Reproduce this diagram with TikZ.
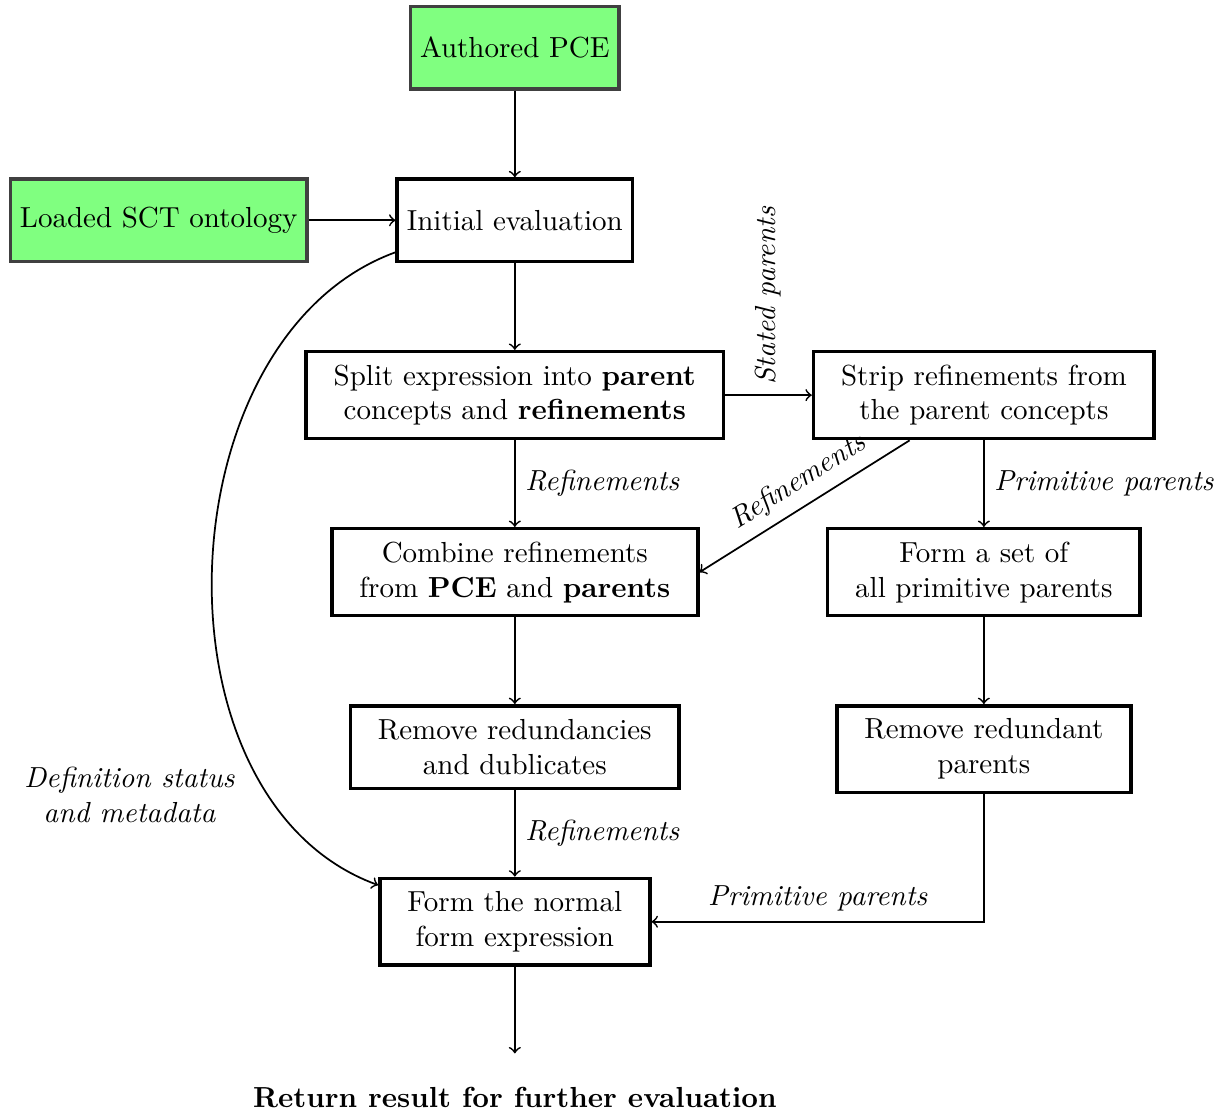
\documentclass[tikz,border=0pt]{standalone}
\usetikzlibrary{positioning}

\begin{document}
\begin{tikzpicture}[node distance=1.05cm,>=to,
      box/.style={draw,very thick,minimum height=1cm,align=center},
      block/.style={box,inner xsep=9.5pt,inner ysep=4.5pt},
      input/.style={box,draw=black!75,fill=green!50},
      lbl/.style={font=\itshape},
      flow/.style={->,semithick}]
      \useasboundingbox (-6.24,2.67) rectangle (8.62,-10.8);
      \node[box] (init) {Initial evaluation};
      \node[input] (pce) [above=of init] {Authored PCE};
      \node[input] (sct) [left=of init] {Loaded SCT ontology};
      \node[block] (split) [below=of init] {Split expression into \textbf{parent}\\concepts and \textbf{refinements}};
      \node[block] (strip) [right=of split] {Strip refinements from\\the parent concepts};
      \node[block] (combine) [below=of split] {Combine refinements\\from \textbf{PCE} and \textbf{parents}};
      \node[block] (primset) [below=of strip] {Form a set of\\all primitive parents};
      \node[block] (redund) [below=of combine] {Remove redundancies\\and dublicates};
      \node[block] (redpar) [below=of primset] {Remove redundant\\parents};
      \node[block] (normal) [below=of redund] {Form the normal\\form expression};
      \coordinate[below=of normal] (out);
      \node[font=\bfseries] (result) [below=0.28cm of out] {Return result for further evaluation};
      \path[flow]
      (pce) edge (init)
      (sct) edge (init)
      (init) edge (split)
      (split) edge node [lbl,rotate=90,anchor=west] {Stated parents} (strip)
      (split) edge node [lbl,right] {Refinements} (combine)
      ([xshift=-0.9cm]strip.south) edge node [lbl,sloped,above,pos=0.47] {Refinements} (combine.east)
      (strip) edge node [lbl,right] {Primitive parents} (primset)
      (combine) edge (redund)
      (primset) edge (redpar)
      (redund) edge node [lbl,right] {Refinements} (normal)
      (normal) edge (out);
      \draw[flow] (redpar) |- node [lbl,above,pos=0.75] {Primitive parents} (normal);
      \draw[flow] (init.195) to[out=200,in=160]
        node [lbl,pos=0.8,left=8pt,align=center] {Definition status\\and metadata} (normal.165);
    \end{tikzpicture}
\end{document}
